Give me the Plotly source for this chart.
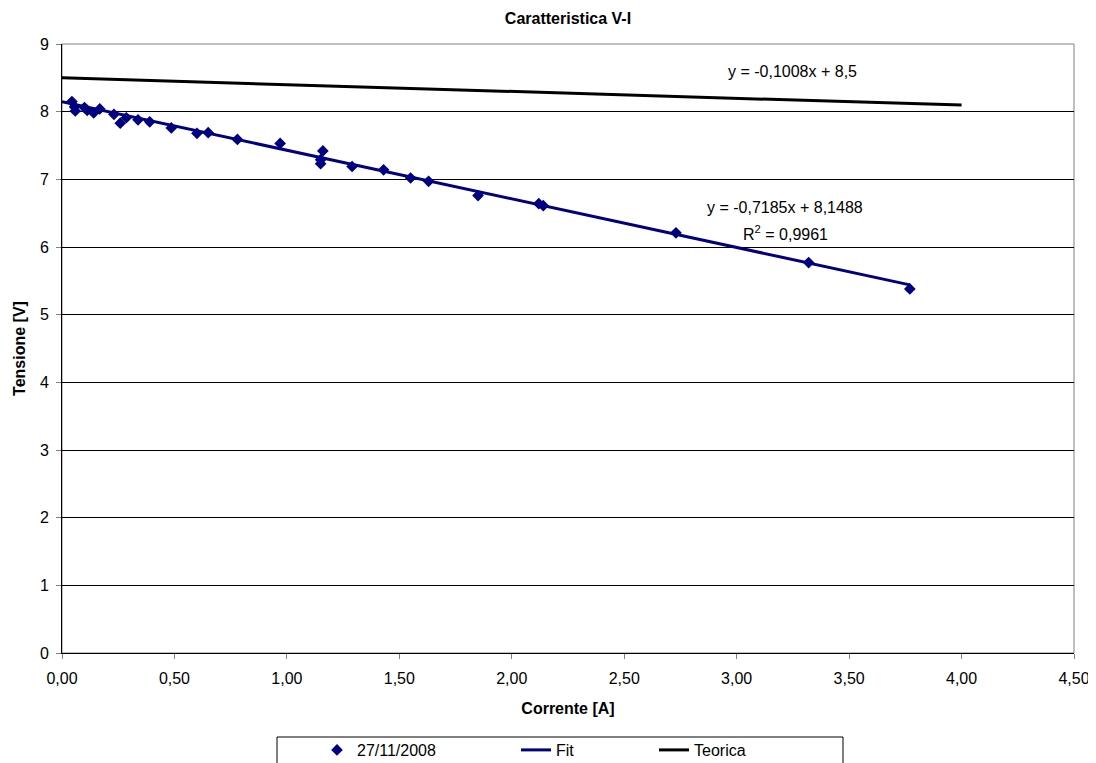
import plotly.graph_objects as go

# Measured data (27/11/2008)
corrente = [0.044, 0.056, 0.059, 0.10, 0.112, 0.141, 0.168, 0.231, 0.259, 0.286,
            0.338, 0.39, 0.486, 0.60, 0.65, 0.78, 0.97, 1.15, 1.15, 1.16,
            1.29, 1.43, 1.55, 1.63, 1.85, 2.12, 2.14, 2.73, 3.32, 3.77]
tensione = [8.15, 8.07, 8.01, 8.06, 8.02, 7.98, 8.04, 7.96, 7.83, 7.91,
            7.88, 7.85, 7.76, 7.68, 7.69, 7.59, 7.53, 7.23, 7.29, 7.42,
            7.19, 7.14, 7.02, 6.97, 6.76, 6.64, 6.61, 6.21, 5.77, 5.38]

# Fit line
fit_x = [0.0, 3.77]
fit_slope, fit_intercept = -0.7185, 8.1488
fit_y = [fit_slope * x + fit_intercept for x in fit_x]

# Theoretical line
teo_x = [0.0, 4.0]
teo_slope, teo_intercept = -0.1008, 8.5
teo_y = [teo_slope * x + teo_intercept for x in teo_x]

x_ticks = [0.0, 0.5, 1.0, 1.5, 2.0, 2.5, 3.0, 3.5, 4.0, 4.5]
y_ticks = list(range(0, 10))

FONT = "Liberation Sans, Arial, sans-serif"
NAVY = "#000080"
FS = 16

# page body has an 8px margin: figure coords = image coords - 8
W, H = 1096, 800
L, T = 54, 36
PW, PH = 1012, 609


def px(ix):
    return (ix - 8 - L) / PW


def py(iy):
    return (T + PH - (iy - 8)) / PH


fig = go.Figure()
fig.add_trace(go.Scatter(x=corrente, y=tensione, mode="markers", name="27/11/2008",
                         marker=dict(symbol="diamond", size=9, color=NAVY),
                         legend="legend"))
fig.add_trace(go.Scatter(x=fit_x, y=fit_y, mode="lines", name="Fit",
                         line=dict(color=NAVY, width=3), legend="legend2"))
fig.add_trace(go.Scatter(x=teo_x, y=teo_y, mode="lines", name="Teorica",
                         line=dict(color="black", width=3), legend="legend3"))

afont = dict(size=FS, color="black", family=FONT)
fig.add_annotation(x=3.25, y=8.59, text="y = -0,1008x + 8,5", showarrow=False, font=afont)
fig.add_annotation(x=3.215, y=6.59, text="y = -0,7185x + 8,1488", showarrow=False, font=afont)
fig.add_annotation(x=3.215, y=6.206, text="R<sup>2</sup> = 0,9961", showarrow=False, font=afont)

# plot-area border (gray) and legend box
fig.add_shape(type="rect", xref="paper", yref="paper", x0=0, x1=1, y0=0, y1=1,
              line=dict(color="#808080", width=1), layer="below")
fig.add_shape(type="rect", xref="paper", yref="paper", x0=px(277), x1=px(843),
              y0=py(737), y1=py(790), line=dict(color="black", width=1))

leg_common = dict(orientation="h", xanchor="left", yanchor="middle", y=py(750),
                  bgcolor="rgba(0,0,0,0)", borderwidth=0,
                  font=dict(size=FS, family=FONT, color="black"))

fig.update_layout(
    width=W, height=H,
    margin=dict(l=L, r=W - L - PW, t=T, b=H - T - PH),
    paper_bgcolor="white", plot_bgcolor="white",
    separators=",.",
    font=dict(family=FONT, size=FS, color="black"),
    title=dict(text="<b>Caratteristica V-I</b>", x=(568 - 8) / W, xanchor="center",
               y=1 - (18 - 8) / H, yanchor="middle", font=dict(size=FS, family=FONT)),
    showlegend=True,
    legend=dict(x=px(317), **leg_common),
    legend2=dict(x=px(516), **leg_common),
    legend3=dict(x=px(654), **leg_common),
    hovermode=False,
)
fig.update_xaxes(range=[0, 4.5], tickvals=x_ticks, tickformat=".2f",
                 showgrid=False, showline=True, linecolor="black", linewidth=1,
                 ticks="outside", ticklen=5, tickcolor="#808080", zeroline=False,
                 tickfont=dict(size=FS), ticklabelstandoff=6,
                 title=dict(text="<b>Corrente [A]</b>", standoff=16,
                            font=dict(size=FS, family=FONT)))
fig.update_yaxes(range=[0, 9], tickvals=y_ticks,
                 showgrid=True, gridcolor="black", gridwidth=1,
                 showline=True, linecolor="black", linewidth=1,
                 ticks="outside", ticklen=5, tickcolor="#808080", zeroline=False,
                 tickfont=dict(size=FS), ticklabelstandoff=4,
                 title=dict(text="<b>Tensione [V]</b>", standoff=10,
                            font=dict(size=FS, family=FONT)))

fig.write_html("out.html")
